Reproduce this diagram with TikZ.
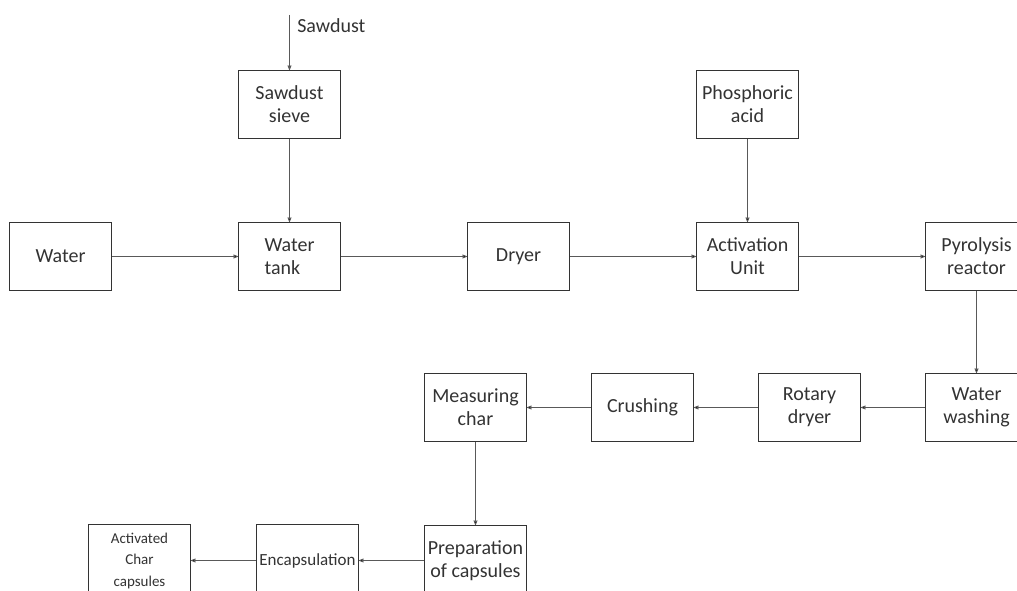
\documentclass[tikz,border=0pt]{standalone}
\usepackage{fontspec}
\setmainfont{Carlito}
\usepackage{tikz}
\usetikzlibrary{arrows, positioning}

\begin{document}
\begin{tikzpicture}[>=stealth', x=1pt, y=1pt, semithick,
    node distance=229pt, inner sep=0pt, align=center,
    every node/.style={text=black!80, font=\fontsize{20}{23}\selectfont}]

  \tikzstyle{block}=[draw=black!80, line width=1.1pt, minimum width=102pt,
    minimum height=68pt]
  \tikzstyle{flow}=[->, draw=black!65, line width=0.7pt]

  \path[use as bounding box, clip] (0,0) rectangle (1017,-590);
  \fill[white] (0,0) rectangle (1017,-590);

  % top rows
  \node[block] (WATER) at (60.5,-256.5) {Water};
  \node[block, align=left] (TANK) [right of=WATER] {Water\\tank};
  \node[block, node distance=152pt] (SIEVE) [above of=TANK] {Sawdust\\sieve};
  \node[block] (DRYER) [right of=TANK] {Dryer};
  \node[block] (ACT) [right of=DRYER] {Activation\\Unit};
  \node[block, node distance=152pt] (ACID) [above of=ACT] {Phosphoric\\acid};
  \node[block] (PYRO) [right of=ACT] {Pyrolysis\\reactor};
  \coordinate (SAWIN) at ([yshift=55pt]SIEVE.north);
  \node[anchor=west] (SAWLBL) at (297,-26) {Sawdust};

  % middle row
  \node[block, node distance=151pt] (WASH) [below of=PYRO] {Water\\washing};
  \node[block, node distance=167pt] (RDRY) [left of=WASH] {Rotary\\dryer};
  \node[block, node distance=167pt] (CRUSH) [left of=RDRY] {Crushing};
  \node[block, node distance=167pt] (MEAS) [left of=CRUSH] {Measuring\\char};

  % bottom row
  \node[block, minimum height=70pt, node distance=153pt] (PREP) [below of=MEAS]
    {Preparation\\of capsules};
  \node[block, minimum height=72pt, node distance=168pt,
    font=\fontsize{17}{20}\selectfont] (ENCAP) [left of=PREP] {Encapsulation};
  \node[block, minimum height=72pt, node distance=168pt,
    font=\fontsize{15}{21.5}\selectfont] (CAPS) [left of=ENCAP]
    {Activated\\Char\\capsules};

  \draw[flow] (SAWIN) -- (SIEVE.north);
  \path[flow]
  (SIEVE) edge (TANK)
  (WATER) edge (TANK)
  (TANK) edge (DRYER)
  (DRYER) edge (ACT)
  (ACID) edge (ACT)
  (ACT) edge (PYRO)
  (PYRO) edge (WASH)
  (WASH) edge (RDRY)
  (RDRY) edge (CRUSH)
  (CRUSH) edge (MEAS)
  (MEAS) edge (PREP)
  (PREP) edge (ENCAP)
  (ENCAP) edge (CAPS);
\end{tikzpicture}
\end{document}
